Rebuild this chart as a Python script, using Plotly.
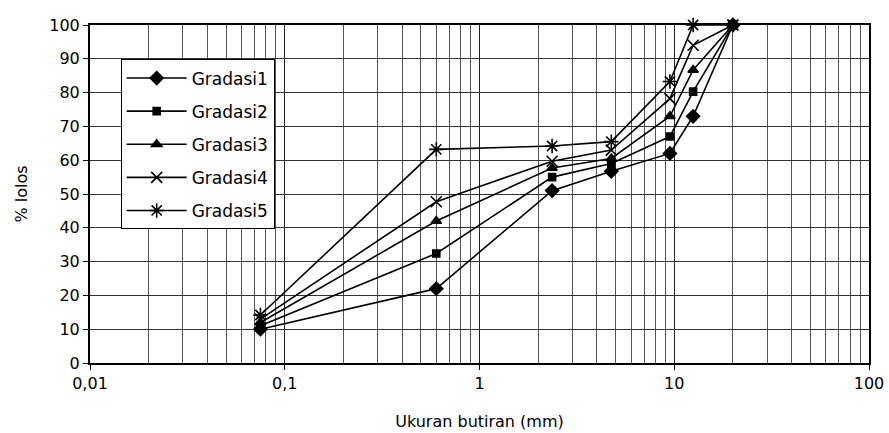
import plotly.graph_objects as go
import numpy as np

sizes = [0.075, 0.6, 2.36, 4.75, 9.5, 12.5, 20]
gradasi1 = [10, 22, 51, 56.7, 62, 73, 100]
gradasi2 = [11, 32.4, 55, 59, 67, 80.3, 100]
gradasi3 = [12, 42, 57.7, 60.5, 73, 86.7, 100]
gradasi4 = [13, 47.7, 59.7, 63, 78.2, 94, 100]
gradasi5 = [14.2, 63.2, 64.2, 65.5, 83.3, 100, 100]

names = ["Gradasi1", "Gradasi2", "Gradasi3", "Gradasi4", "Gradasi5"]
series = [gradasi1, gradasi2, gradasi3, gradasi4, gradasi5]
symbols = ["diamond", "square", "triangle-up", "x-thin-open", "asterisk-open"]
msizes = [10, 7, 9, 11, 12]

xtick_vals = [0.01, 0.1, 1, 10, 100]
xtick_text = ["0,01", "0,1", "1", "10", "100"]
ytick_vals = list(range(0, 101, 10))

minor_vals = [m * 10.0 ** e for e in range(-2, 2) for m in range(2, 10)]

font = "DejaVu Sans"
fig = go.Figure()
for i, (n, s) in enumerate(zip(names, series)):
    fig.add_trace(go.Scatter(
        x=sizes, y=s, name=n, mode="lines+markers",
        legendgroup=n, cliponaxis=False,
        line=dict(color="black", width=1.6),
        marker=dict(symbol=symbols[i], size=msizes[i], color="black",
                    line=dict(color="black", width=1.6)),
    ))

fig.update_layout(
    width=889, height=433,
    margin=dict(l=90, r=20, t=25, b=70),
    paper_bgcolor="white", plot_bgcolor="white",
    font=dict(family=font, size=16, color="black"),
    showlegend=True,
    legend=dict(
        x=0.0394, y=0.898, xanchor="left", yanchor="top",
        bgcolor="white", bordercolor="black", borderwidth=1,
        font=dict(family=font, size=17, color="black"),
        tracegroupgap=8, itemwidth=60,
    ),
    xaxis=dict(
        type="log", range=[-2, 2], automargin=False,
        tickmode="array", tickvals=xtick_vals, ticktext=xtick_text,
        ticks="outside", ticklen=5, tickcolor="black",
        showgrid=True, gridcolor="#222", gridwidth=1,
        showline=True, linecolor="black", linewidth=2, mirror=True,
        minor=dict(tickmode="array", tickvals=minor_vals, showgrid=True,
                   gridcolor="#555", gridwidth=1, ticks=""),
        title=dict(text="Ukuran butiran (mm)", font=dict(size=16), standoff=24),
        zeroline=False,
        tickfont=dict(size=16),
    ),
    yaxis=dict(
        range=[0, 100], automargin=False,
        tickmode="array", tickvals=ytick_vals,
        ticks="outside", ticklen=5, tickcolor="black",
        showgrid=True, gridcolor="#333", gridwidth=1,
        showline=True, linecolor="black", linewidth=2, mirror=True,
        title=dict(text="% lolos", font=dict(size=16), standoff=18),
        zeroline=False,
        tickfont=dict(size=16),
    ),
)

fig.write_html("out.html")
